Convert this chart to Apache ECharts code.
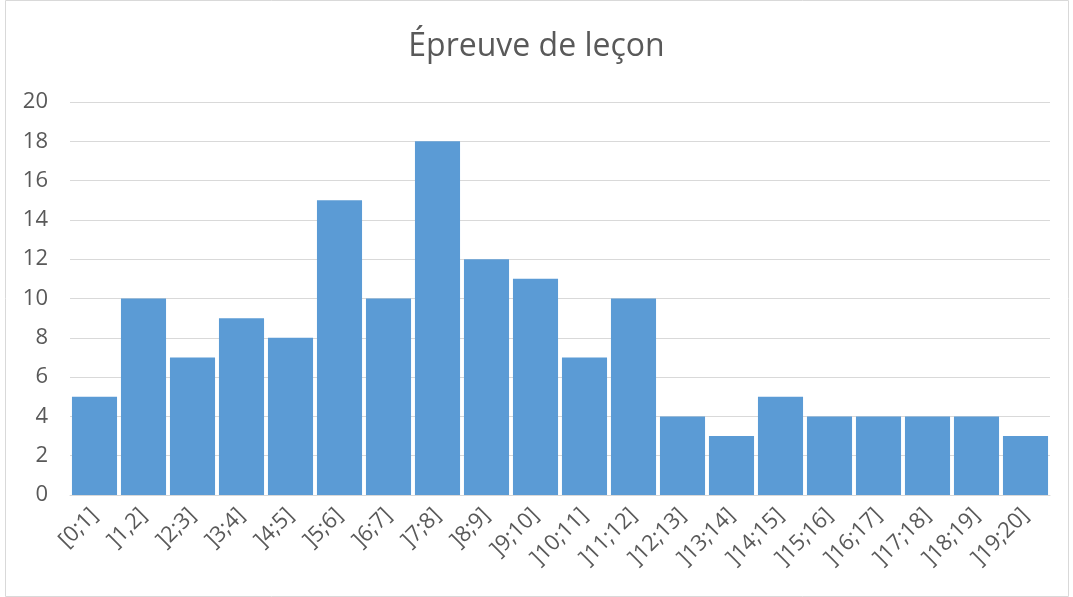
<!DOCTYPE html>
<html>
<head>
<meta charset="utf-8">
<script src="https://cdn.jsdelivr.net/npm/echarts@6/dist/echarts.min.js"></script>
<style>
  html, body { margin: 0; padding: 0; background: #fff; }
  #graficas { width: 1073px; height: 597px; }
</style>
</head>
<body>
<div id="graficas"></div>
<script>
const titre = "Épreuve de leçon";
const intervalles = ["[0;1]", "]1,2]", "]2;3]", "]3;4]", "]4;5]", "]5;6]", "]6;7]", "]7;8]", "]8;9]", "]9;10]",
  "]10;11]", "]11;12]", "]12;13]", "]13;14]", "]14;15]", "]15;16]", "]16;17]", "]17;18]", "]18;19]", "]19;20]"];
const effectifs = [5, 10, 7, 9, 8, 15, 10, 18, 12, 11, 7, 10, 4, 3, 5, 4, 4, 4, 4, 3];

const getOptionChart = () => {
  return {
    animation: false,
    graphic: [{
      type: "rect",
      shape: { x: 5.5, y: 0.5, width: 1063, height: 596 },
      style: { fill: "none", stroke: "#d9d9d9", lineWidth: 1 },
      silent: true
    }],
    title: {
      text: titre,
      left: "center",
      top: 26,
      textStyle: { fontSize: 32, fontWeight: "normal", color: "#595959", fontFamily: "Open Sans" }
    },
    grid: { left: 70, right: 23, top: 102, bottom: 102 },
    xAxis: {
      type: "category",
      data: intervalles,
      axisLine: { lineStyle: { color: "#d9d9d9", width: 1 } },
      axisTick: { show: false },
      axisLabel: { rotate: 45, color: "#595959", fontSize: 22, fontFamily: "Open Sans", interval: 0, margin: 17 }
    },
    yAxis: {
      type: "value",
      min: 0,
      max: 20,
      interval: 2,
      axisLine: { show: false },
      axisTick: { show: false },
      axisLabel: { color: "#595959", fontSize: 22, fontFamily: "Open Sans", margin: 22 },
      splitLine: { lineStyle: { color: "#d9d9d9", width: 1 } }
    },
    series: [{
      type: "bar",
      data: effectifs,
      barCategoryGap: "8%",
      itemStyle: { color: "#5b9bd5" }
    }]
  };
};

const chart = echarts.init(document.querySelector("#graficas"));
chart.setOption(getOptionChart());
</script>
</body>
</html>
